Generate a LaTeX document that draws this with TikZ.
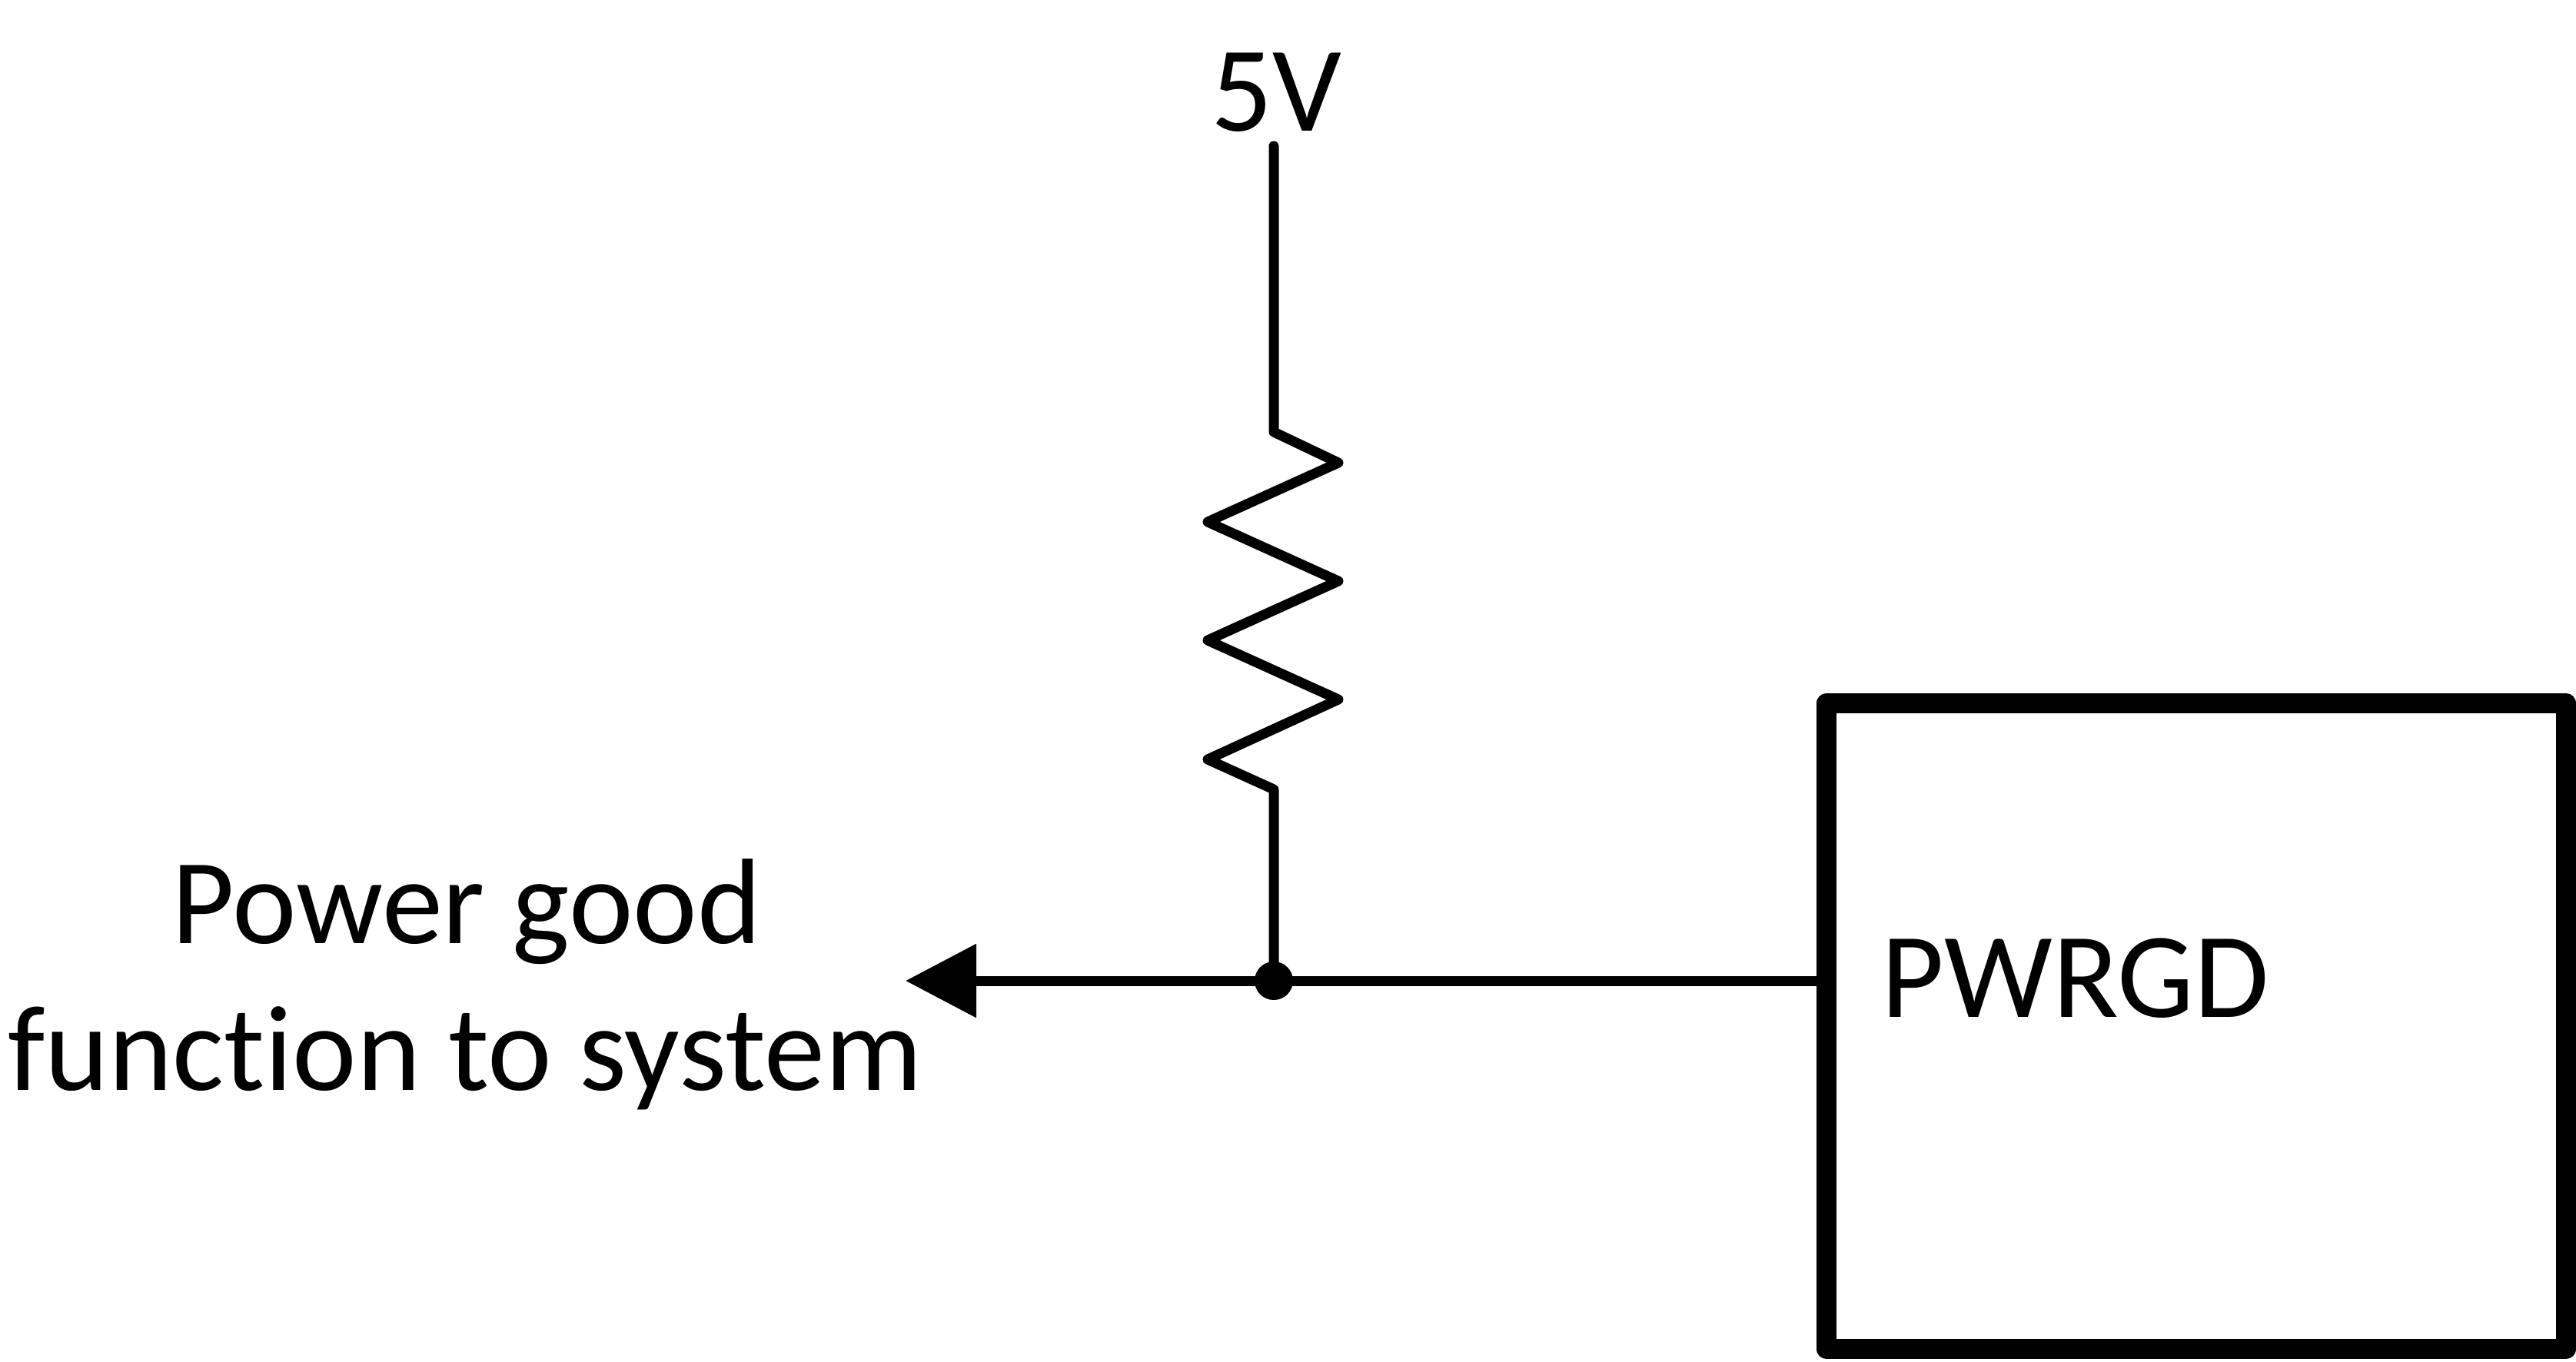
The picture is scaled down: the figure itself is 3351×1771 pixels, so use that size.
\documentclass[tikz,border=0pt]{standalone}
\usepackage{fontspec}
\setmainfont{Carlito}[Ligatures=NoCommon]
\usetikzlibrary{arrows.meta}
\begin{document}
\begin{tikzpicture}[x=0.01cm,y=-0.01cm,
  wire/.style={line width=3.7pt, line cap=round, line join=round},
  lbl/.style={font=\fontsize{45}{54}\selectfont, inner sep=0pt},
  chip/.style={draw, line width=7.4pt, line join=round, minimum width=9.615cm, minimum height=8.4cm, inner sep=0pt},
  dot/.style={circle, fill, inner sep=0pt, minimum size=0.5cm}]
\useasboundingbox (0,0) rectangle (3351,1771);
% labels
\node[lbl, anchor=base] (v5) at (1660,170) {5V};
\node[lbl, anchor=base] (pg1) at (607,1227) {Power good};
\node[lbl, anchor=base] (pg2) at (605,1418) {function to system};
% chip box
\node[chip] (box) at (2857,1335) {};
\node[lbl, anchor=base west] (pw) at (2447,1323) {PWRGD};
% resistor
\coordinate (rtop) at (1657,190);
\coordinate (r0) at (1657,562);
\coordinate (r1) at (1741,602);
\coordinate (r2) at (1571,679);
\coordinate (r3) at (1741,756);
\coordinate (r4) at (1571,833);
\coordinate (r5) at (1741,910);
\coordinate (r6) at (1571,988);
\coordinate (r7) at (1657,1027);
\node[dot] (j) at (1657,1276) {};
\coordinate (tip) at (1178,1276);
\draw[wire] (rtop) -- (r0) -- (r1) -- (r2) -- (r3) -- (r4) -- (r5) -- (r6) -- (r7) -- (j.center);
\draw[wire, -{Triangle[length=0.92cm, width=0.93cm]}] (box.west |- j) -- (tip);
\end{tikzpicture}
\end{document}
